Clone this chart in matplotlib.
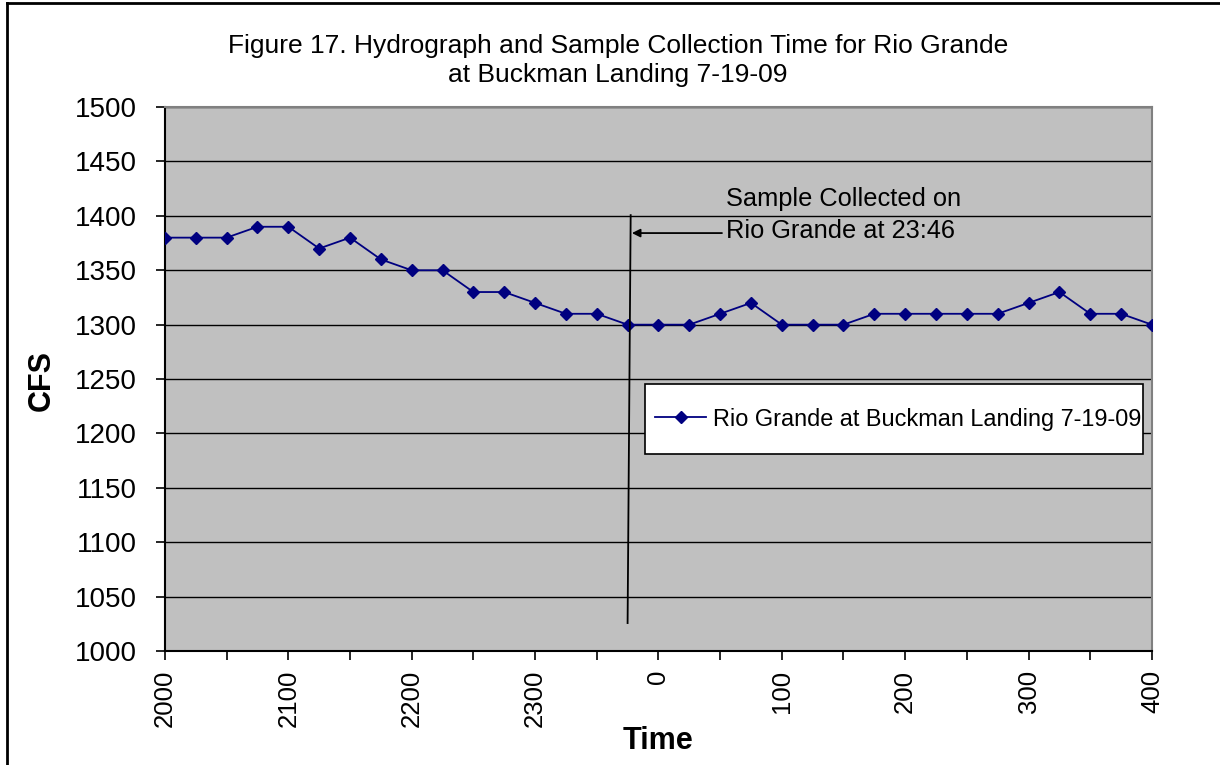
import matplotlib.pyplot as plt
from matplotlib.lines import Line2D
from matplotlib.patches import Rectangle

plt.rcParams['font.family'] = ['Liberation Sans', 'DejaVu Sans']

# Dane: przepływ co 15 minut
times = ["2000", "2015", "2030", "2045", "2100", "2115", "2130", "2145",
         "2200", "2215", "2230", "2245", "2300", "2315", "2330", "2345",
         "0", "15", "30", "45", "100", "115", "130", "145",
         "200", "215", "230", "245", "300", "315", "330", "345", "400"]
cfs = [1380, 1380, 1380, 1390, 1390, 1370, 1380, 1360,
       1350, 1350, 1330, 1330, 1320, 1310, 1310, 1300,
       1300, 1300, 1310, 1320, 1300, 1300, 1300, 1310,
       1310, 1310, 1310, 1310, 1320, 1330, 1310, 1310, 1300]
series_name = "Rio Grande at Buckman Landing 7-19-09"
sample_note = "Sample Collected on\nRio Grande at 23:46"

fig = plt.figure(figsize=(12.2, 7.65), dpi=100)
ax = fig.add_axes([0.1352, 0.149, 0.809, 0.711])
ax.set_facecolor("#C0C0C0")

x = list(range(len(times)))
ax.plot(x, cfs, color="#000080", linewidth=1.3, marker="D", markersize=6,
        label=series_name, zorder=3)

ax.set_xlim(0, len(times) - 1)
ax.set_ylim(1000, 1500)
ax.set_yticks(range(1000, 1501, 50))
ax.grid(True, axis="y", color="black", linewidth=1)
ax.set_axisbelow(True)

tick_pos = x[::2]
ax.set_xticks(tick_pos)
ax.set_xticklabels([times[i] if i % 4 == 0 else "" for i in tick_pos],
                   rotation=90, fontsize=18.5)
ax.tick_params(axis="y", labelsize=20, direction="out", length=6.5, width=1.2,
               pad=13.5)
ax.tick_params(axis="x", direction="out", length=6.5, width=1.2, pad=7)

for s in ["left", "bottom"]:
    ax.spines[s].set_color("black")
    ax.spines[s].set_linewidth(1.5)
for s in ["top", "right"]:
    ax.spines[s].set_color("#808080")
    ax.spines[s].set_linewidth(1.5)

# Linia czasu pobrania próbki i adnotacja
ax.plot([15.1, 15.0], [1400.7, 1025.7], color="black", linewidth=1.3, zorder=4)
ax.annotate("", xy=(15.14, 1384.2), xytext=(18.06, 1384.2),
            arrowprops=dict(arrowstyle="-|>", color="black", lw=1.3,
                            mutation_scale=12, shrinkA=0, shrinkB=0))
ax.text(18.2, 1401, sample_note, fontsize=18.3, ha="left", va="center",
        linespacing=1.45)

# Legenda w białej ramce
ax.add_patch(Rectangle((0.486, 0.362), 0.505, 0.129, transform=ax.transAxes,
                       facecolor="white", edgecolor="black", linewidth=1.2,
                       zorder=5))
leg = ax.legend(loc="center left", bbox_to_anchor=(0.497, 0.4265),
                fontsize=16.9, frameon=False, handlelength=2.15,
                handletextpad=0.3, borderpad=0, borderaxespad=0)
leg.set_zorder(6)

fig.text(0.5066, 0.921,
         "Figure 17. Hydrograph and Sample Collection Time for Rio Grande\n"
         "at Buckman Landing 7-19-09",
         ha="center", va="center", fontsize=19, linespacing=1.28)
fig.text(0.034, 0.503, "CFS", rotation=90, ha="center", va="center",
         fontsize=22, fontweight="bold")
fig.text(0.539, 0.031, "Time", ha="center", va="center",
         fontsize=22, fontweight="bold")

# Ramka wykresu (widoczna lewa i górna krawędź)
fig.add_artist(Line2D([0.0057, 0.0057], [0, 0.996], color="black", linewidth=2,
                      transform=fig.transFigure))
fig.add_artist(Line2D([0.0057, 1], [0.996, 0.996], color="black", linewidth=2,
                      transform=fig.transFigure))

fig.savefig("out.png", dpi=100)
